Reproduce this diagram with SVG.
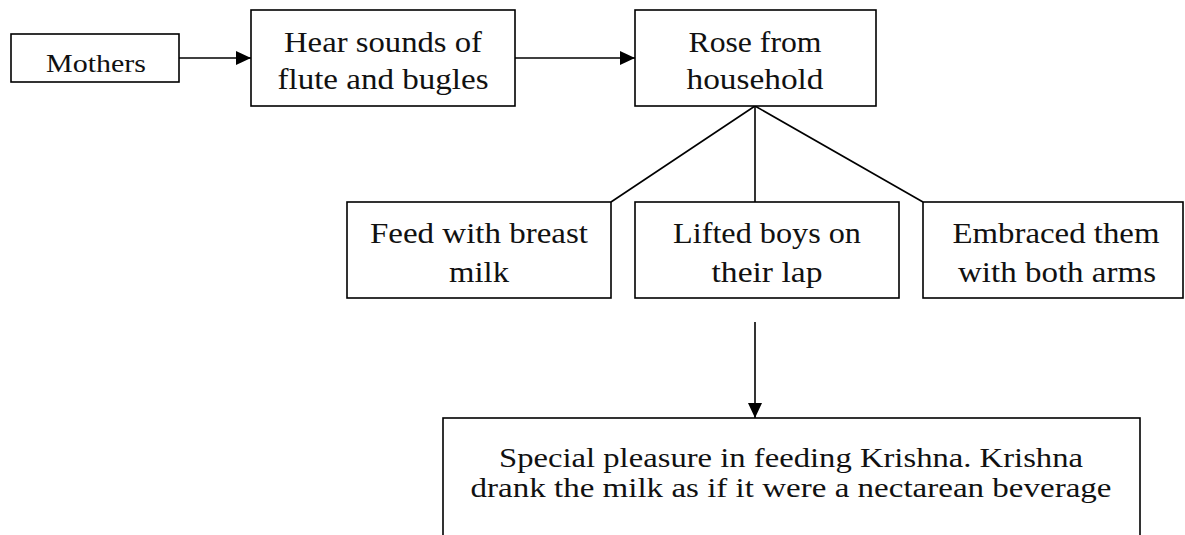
<svg xmlns="http://www.w3.org/2000/svg" width="1185" height="535" viewBox="0 0 1185 535">
<style>
.box{fill:#fff;stroke:#000;stroke-width:1.6}
.t{font-family:"Liberation Serif","Times New Roman",serif;fill:#111;text-anchor:middle}
.s28{font-size:30px}
.s24{font-size:26px}
.s26{font-size:28px}
.ln{stroke:#000;stroke-width:1.6;fill:none}
</style>
<defs>
<marker id="ah" markerWidth="16" markerHeight="14" refX="15" refY="7" orient="auto" markerUnits="userSpaceOnUse">
<path d="M0,0 L15,7 L0,14 Z" fill="#000"/>
</marker>
</defs>
<rect width="1185" height="535" fill="#fff"/>
<g id="connectors">
<line class="ln" x1="179" y1="58" x2="251" y2="58" marker-end="url(#ah)"/>
<line class="ln" x1="515" y1="58" x2="635" y2="58" marker-end="url(#ah)"/>
<line class="ln" x1="755" y1="106" x2="611" y2="202"/>
<line class="ln" x1="755" y1="106" x2="755" y2="202"/>
<line class="ln" x1="755" y1="106" x2="923" y2="202"/>
<line class="ln" x1="755" y1="322" x2="755" y2="418" marker-end="url(#ah)"/>
</g>
<g id="mothers">
<rect class="box" x="11" y="34" width="168" height="48"/>
<text class="t s24" x="96" y="72" textLength="100" lengthAdjust="spacingAndGlyphs">Mothers</text>
</g>
<g id="hear">
<rect class="box" x="251" y="10" width="264" height="96"/>
<text class="t s28" x="383" y="52" textLength="198" lengthAdjust="spacingAndGlyphs">Hear sounds of</text>
<text class="t s28" x="383" y="89" textLength="211" lengthAdjust="spacingAndGlyphs">flute and bugles</text>
</g>
<g id="rose">
<rect class="box" x="635" y="10" width="241" height="96"/>
<text class="t s28" x="755" y="52" textLength="133" lengthAdjust="spacingAndGlyphs">Rose from</text>
<text class="t s28" x="755" y="89" textLength="137" lengthAdjust="spacingAndGlyphs">household</text>
</g>
<g id="feed">
<rect class="box" x="347" y="202" width="264" height="96"/>
<text class="t s28" x="479" y="243" textLength="218" lengthAdjust="spacingAndGlyphs">Feed with breast</text>
<text class="t s28" x="479" y="282" textLength="60" lengthAdjust="spacingAndGlyphs">milk</text>
</g>
<g id="lifted">
<rect class="box" x="635" y="202" width="264" height="96"/>
<text class="t s28" x="767" y="243" textLength="188" lengthAdjust="spacingAndGlyphs">Lifted boys on</text>
<text class="t s28" x="767" y="282" textLength="111" lengthAdjust="spacingAndGlyphs">their lap</text>
</g>
<g id="embraced">
<rect class="box" x="923" y="202" width="260" height="96"/>
<text class="t s28" x="1056" y="243" textLength="207" lengthAdjust="spacingAndGlyphs">Embraced them</text>
<text class="t s28" x="1057" y="282" textLength="198" lengthAdjust="spacingAndGlyphs">with both arms</text>
</g>
<g id="special">
<rect class="box" x="443" y="418" width="697" height="140"/>
<text class="t s26" x="791" y="467" textLength="584" lengthAdjust="spacingAndGlyphs">Special pleasure in feeding Krishna. Krishna</text>
<text class="t s26" x="791" y="497" textLength="641" lengthAdjust="spacingAndGlyphs">drank the milk as if it were a nectarean beverage</text>
</g>
</svg>
